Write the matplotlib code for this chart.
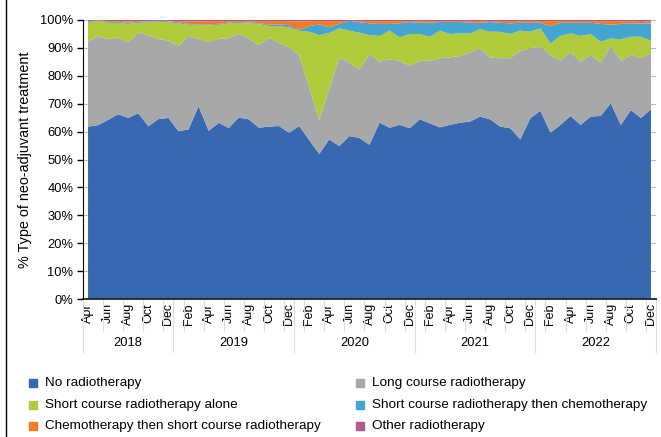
import matplotlib
matplotlib.use('Agg')
import numpy as np
import matplotlib.pyplot as plt
from matplotlib.lines import Line2D
from matplotlib.transforms import blended_transform_factory

plt.rcParams['font.family'] = ['Liberation Sans', 'DejaVu Sans']

# monthly share (%) of each treatment type, Apr 2018 .. Dec 2022
no_radio = [61.8, 62.3, 64.2, 66.2, 64.9, 66.6, 61.9, 64.5, 64.9, 60.1,
            60.8, 69.3, 60.3, 63.1, 61.3, 65.0, 64.4, 61.4, 61.8, 62.0,
            59.6, 62.0, 57.0, 52.0, 57.2, 54.8, 58.4, 57.7, 55.3, 63.2,
            61.4, 62.4, 61.2, 64.4, 63.0, 61.5, 62.4, 63.2, 63.6, 65.4,
            64.4, 61.8, 61.2, 57.2, 64.8, 67.5, 59.6, 62.4, 65.6, 62.4,
            65.4, 65.6, 70.1, 62.4, 67.7, 65.1, 68.0]
long_course = [30.4, 32.0, 28.9, 27.6, 27.0, 28.9, 32.6, 28.7, 27.7, 30.6,
               33.5, 24.2, 31.7, 30.2, 32.2, 30.2, 28.9, 29.6, 31.9, 29.8,
               30.6, 25.5, 18.9, 12.2, 18.2, 31.8, 26.3, 24.6, 32.5, 21.9,
               24.5, 23.0, 22.3, 21.0, 22.4, 24.8, 24.2, 23.9, 24.7, 24.4,
               22.2, 24.5, 25.1, 31.8, 25.0, 23.0, 27.9, 23.0, 23.0, 22.7,
               22.1, 19.1, 20.6, 23.0, 19.8, 21.5, 20.1]
short_alone = [6.8, 5.5, 5.9, 5.2, 6.7, 3.5, 4.7, 6.2, 6.6, 8.1,
               4.0, 5.1, 6.1, 5.0, 5.3, 3.8, 5.5, 7.6, 4.1, 6.0,
               7.2, 8.7, 19.9, 30.4, 20.0, 10.4, 11.5, 13.1, 6.8, 9.2,
               10.3, 8.4, 11.5, 9.6, 8.6, 9.9, 8.4, 8.1, 6.9, 6.9,
               9.2, 9.5, 8.7, 7.2, 6.0, 6.5, 4.1, 8.9, 6.6, 9.2,
               7.5, 7.5, 2.7, 7.7, 6.5, 7.7, 4.5]
short_then_chemo = [0.3, 0.1, 0.3, 0.3, 0.4, 0.3, 0.3, 0.2, 0.3, 0.4,
                    0.3, 0.2, 0.3, 0.3, 0.3, 0.3, 0.3, 0.3, 0.5, 0.6,
                    0.8, 0.3, 2.0, 3.8, 2.0, 1.6, 3.5, 3.8, 4.2, 4.3,
                    2.4, 5.0, 4.3, 4.0, 5.0, 3.1, 4.3, 4.1, 3.8, 2.3,
                    3.5, 3.2, 3.8, 2.8, 3.2, 2.0, 6.2, 4.7, 3.8, 4.7,
                    4.0, 6.4, 4.9, 5.5, 4.8, 4.7, 6.2]
chemo_then_short = [0.3, 0.0, 0.3, 0.3, 0.5, 0.3, 0.2, 0.1, 0.2, 0.4,
                    0.9, 0.9, 1.2, 1.0, 0.5, 0.3, 0.5, 0.7, 1.3, 1.2,
                    1.4, 3.0, 1.8, 1.2, 2.2, 1.0, 0.0, 0.4, 0.8, 1.0,
                    1.0, 0.8, 0.3, 0.6, 0.6, 0.3, 0.3, 0.3, 0.6, 0.6,
                    0.3, 0.6, 0.8, 0.6, 0.6, 0.6, 1.8, 0.6, 0.6, 0.6,
                    0.6, 1.0, 1.3, 1.0, 0.8, 0.6, 0.8]
other = [0.4, 0.1, 0.4, 0.4, 0.5, 0.4, 0.3, 0.3, 0.3, 0.4,
         0.5, 0.6, 0.4, 0.4, 0.4, 0.4, 0.4, 0.4, 0.4, 0.4,
         0.4, 0.5, 0.4, 0.4, 0.4, 0.4, 0.3, 0.4, 0.4, 0.4,
         0.4, 0.4, 0.4, 0.4, 0.4, 0.4, 0.4, 0.4, 0.4, 0.4,
         0.4, 0.4, 0.4, 0.4, 0.4, 0.4, 0.4, 0.4, 0.4, 0.4,
         0.4, 0.4, 0.4, 0.4, 0.4, 0.7, 0.4]

series_names = ['No radiotherapy', 'Long course radiotherapy',
                'Short course radiotherapy alone',
                'Short course radiotherapy then chemotherapy',
                'Chemotherapy then short course radiotherapy',
                'Other radiotherapy']
colors = ['#3868B0', '#A7A8AA', '#AFCA3B', '#44A4D2', '#F47B20', '#B15B8E']

month_labels = ['Apr', 'Jun', 'Aug', 'Oct', 'Dec',
                'Feb', 'Apr', 'Jun', 'Aug', 'Oct', 'Dec',
                'Feb', 'Apr', 'Jun', 'Aug', 'Oct', 'Dec',
                'Feb', 'Apr', 'Jun', 'Aug', 'Oct', 'Dec',
                'Feb', 'Apr', 'Jun', 'Aug', 'Oct', 'Dec']
years = ['2018', '2019', '2020', '2021', '2022']
months_in_year = [9, 12, 12, 12, 12]

data = np.array([no_radio, long_course, short_alone, short_then_chemo,
                 chemo_then_short, other])
pct = data / data.sum(axis=0) * 100
x = np.arange(pct.shape[1])

W, H = 661, 437
fig = plt.figure(figsize=(W / 100, H / 100), dpi=100)
ax = fig.add_axes([83 / W, 1 - 299 / H, 573 / W, 279 / H])

ax.stackplot(x, pct, colors=colors, linewidth=0, zorder=2)

ax.set_xlim(-0.5, len(x) - 0.5)
ax.set_ylim(0, 100)
ax.set_yticks(range(0, 101, 10))
ax.set_yticklabels([f'{v}%' for v in range(0, 101, 10)], fontsize=9.3)
ax.yaxis.grid(True, color='#9DC3E6', linewidth=0.8, zorder=0)
ax.set_axisbelow(True)
ax.tick_params(axis='y', direction='out', length=4, width=1, color='black', pad=3)
for s in ['top', 'right']:
    ax.spines[s].set_visible(False)
ax.spines['left'].set_color('black')
ax.spines['bottom'].set_color('#222222')
ax.spines['bottom'].set_linewidth(1.3)
ax.spines['bottom'].set_zorder(3)

ax.set_xticks(range(0, len(x), 2))
ax.set_xticklabels(month_labels, rotation=90, fontsize=9, va='top', ha='center')
ax.tick_params(axis='x', length=0, pad=3)

ax.set_ylabel('% Type of neo-adjuvant treatment', fontsize=10.4, labelpad=6)

# category separators below the axis
tr = blended_transform_factory(ax.transData, ax.transAxes)
ph = 279.0
for b in np.arange(-0.5, len(x), 2):
    ax.add_line(Line2D([b, b], [0, -32 / ph], transform=tr, color='#DDDDDD',
                       linewidth=0.8, clip_on=False))
start = -0.5
for yr, n in zip(years, months_in_year):
    end = start + n
    ax.add_line(Line2D([start, start], [0, -53 / ph], transform=tr,
                       color='#DDDDDD', linewidth=0.8, clip_on=False))
    ax.text((start + end) / 2, -44 / ph, yr, transform=tr, ha='center',
            va='center', fontsize=9.3)
    start = end
ax.add_line(Line2D([start, start], [0, -53 / ph], transform=tr,
                   color='#DDDDDD', linewidth=0.8, clip_on=False))

# legend in two columns
col_x = [33, 360]
row_y = [383, 405, 426]
for k, name in enumerate(series_names):
    cx = col_x[k % 2]
    cy = row_y[k // 2]
    fig.add_artist(Line2D([cx / W], [1 - cy / H], marker='s', markersize=5.5,
                          color=colors[k], linestyle='none',
                          transform=fig.transFigure))
    fig.text((cx + 12) / W, 1 - cy / H, name, va='center', ha='left',
             fontsize=9.7)

# frame line on the left edge
fig.add_artist(Line2D([5.5 / W, 5.5 / W], [0, 1], color='black', linewidth=1,
                      transform=fig.transFigure))

fig.savefig('out.png', dpi=100)
